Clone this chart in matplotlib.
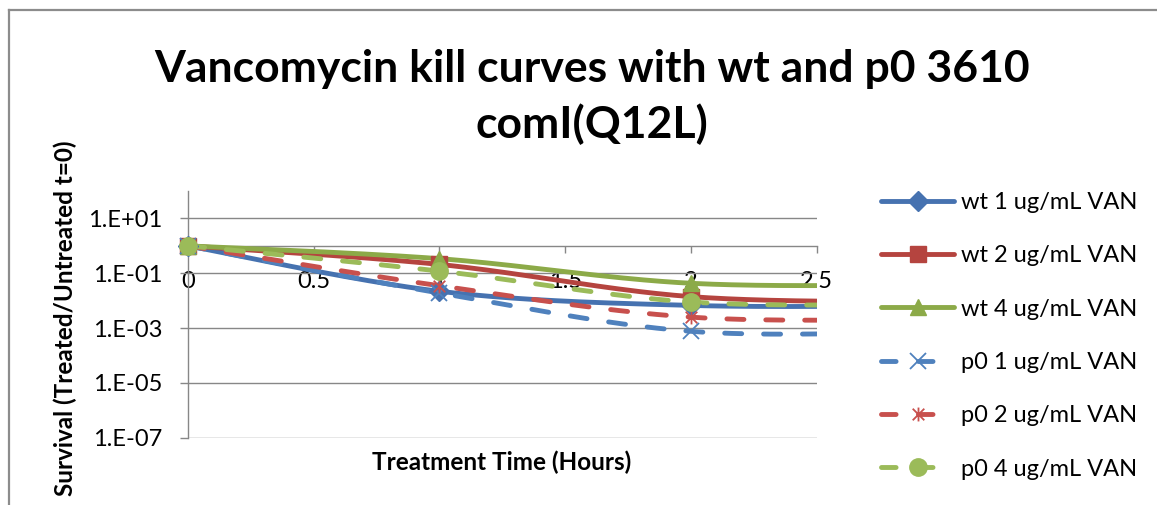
import numpy as np
import matplotlib
matplotlib.use("Agg")
import matplotlib.pyplot as plt
from matplotlib.lines import Line2D
from matplotlib.path import Path

plt.rcParams['font.family'] = ['Lato', 'DejaVu Sans']

# Sampling times (hours) and survival fractions (treated / untreated t=0)
hours = [0, 1, 2, 3]
series_names = ["wt 1 ug/mL VAN", "wt 2 ug/mL VAN", "wt 4 ug/mL VAN",
                "p0 1 ug/mL VAN", "p0 2 ug/mL VAN", "p0 4 ug/mL VAN"]
wt_1 = [1.0, 0.022, 0.0067, 0.0066]
wt_2 = [1.0, 0.21, 0.014, 0.009]
wt_4 = [1.0, 0.34, 0.043, 0.038]
p0_1 = [1.0, 0.019, 0.00076, 0.00076]
p0_2 = [1.0, 0.035, 0.0025, 0.0021]
p0_4 = [1.0, 0.12, 0.0089, 0.0075]
x_ticks = [0, 0.5, 1, 1.5, 2, 2.5]
x_tick_labels = ["0", "0.5", "1", "1.5", "2", "2.5"]
y_ticks = [1e1, 1e-1, 1e-3, 1e-5, 1e-7]
y_tick_labels = ["1.E+01", "1.E-01", "1.E-03", "1.E-05", "1.E-07"]

# Excel-like asterisk: an X with a vertical stroke
star = Path([(-1, -1), (1, 1), (-1, 1), (1, -1), (0, -1.2), (0, 1.2)],
            [Path.MOVETO, Path.LINETO, Path.MOVETO, Path.LINETO, Path.MOVETO, Path.LINETO])

styles = [
    dict(color="#4672B0", ls="-", marker="D", ms=10, mfc="#4672B0", mec="#4672B0", mew=1),
    dict(color="#B5443F", ls="-", marker="s", ms=11, mfc="#B5443F", mec="#B5443F", mew=1),
    dict(color="#8CAA48", ls="-", marker="^", ms=12, mfc="#8CAA48", mec="#8CAA48", mew=1),
    dict(color="#4F81BD", ls="--", marker="x", ms=12, mfc="none", mec="#4F81BD", mew=1.3),
    dict(color="#C8504D", ls="--", marker=star, ms=10, mfc="none", mec="#C8504D", mew=1.3),
    dict(color="#9BBB59", ls="--", marker="o", ms=12.5, mfc="#9BBB59", mec="#9BBB59", mew=1),
]
LW = 3.5
DASHES = (3.5, 4.5)
FS = 17


def smooth(xs, ys, n=60):
    """Cubic Bezier smoothing through every point (Excel 'smoothed line')."""
    pts = np.column_stack([xs, ys]).astype(float)
    out = []
    for i in range(len(pts) - 1):
        p0 = pts[i - 1] if i > 0 else pts[i]
        p1, p2 = pts[i], pts[i + 1]
        p3 = pts[i + 2] if i + 2 < len(pts) else pts[i + 1]
        c1 = p1 + (p2 - p0) / 6.0
        c2 = p2 - (p3 - p1) / 6.0
        t = np.linspace(0, 1, n)[:, None]
        seg = ((1 - t) ** 3) * p1 + 3 * ((1 - t) ** 2) * t * c1 + 3 * (1 - t) * t ** 2 * c2 + t ** 3 * p2
        out.append(seg if i == 0 else seg[1:])
    return np.vstack(out)


W, H = 1157, 505
fig = plt.figure(figsize=(W / 100, H / 100), dpi=100)
ax = fig.add_axes([187.7 / W, 1 - 437.7 / H, (816.7 - 187.7) / W, (437.7 - 191) / H])

ax.set_yscale("log")
ax.set_xlim(0, 2.5)
ax.set_ylim(1e-7, 1e2)
xmax = ax.get_xlim()[1]

grid_c = "#878787"
ax.set_yticks(y_ticks)
ax.set_yticklabels(y_tick_labels)
ax.yaxis.set_minor_locator(matplotlib.ticker.NullLocator())
ax.set_xticks(x_ticks)
ax.set_xticklabels(x_tick_labels)
ax.grid(axis="y", color=grid_c, lw=1.0)
ax.set_axisbelow(True)
for s in ("top", "right"):
    ax.spines[s].set_visible(False)
ax.spines["bottom"].set_position(("data", 1))
for s in ("bottom", "left"):
    ax.spines[s].set_color(grid_c)
    ax.spines[s].set_linewidth(1.0)
ax.tick_params(axis="y", length=6, width=1.0, color=grid_c, pad=12, labelsize=FS)
ax.tick_params(axis="x", length=5, width=1.0, color=grid_c, pad=13, labelsize=FS, direction="out")

all_series = [wt_1, wt_2, wt_4, p0_1, p0_2, p0_4]
handles = []
for name, vals, st in zip(series_names, all_series, styles):
    curve = smooth(hours, np.log10(vals))
    ln, = ax.plot(curve[:, 0], 10 ** curve[:, 1], color=st["color"], lw=LW,
                  solid_capstyle="round", dash_capstyle="round", zorder=3)
    if st["ls"] == "--":
        ln.set_dashes(DASHES)
    hx = np.array(hours, dtype=float)
    hv = np.array(vals, dtype=float)
    keep = hx <= xmax
    ax.plot(hx[keep], hv[keep], ls="none", marker=st["marker"], ms=st["ms"],
            mfc=st["mfc"], mec=st["mec"], mew=st["mew"], clip_on=False, zorder=4)
    h = Line2D([], [], color=st["color"], lw=LW, marker=st["marker"], ms=st["ms"],
               mfc=st["mfc"], mec=st["mec"], mew=st["mew"],
               solid_capstyle="round", dash_capstyle="round")
    if st["ls"] == "--":
        h.set_dashes((3.0, 4.6))
    handles.append(h)

fig.legend(handles, series_names, loc="upper left",
           bbox_to_anchor=(881 / W, 1 - 192 / H), frameon=False, fontsize=FS,
           handlelength=3.1, handletextpad=0.3, labelspacing=1.37, borderpad=0,
           borderaxespad=0)

fig.text(592 / W, 1 - 97 / H, "Vancomycin kill curves with wt and p0 3610\ncomI(Q12L)",
         ha="center", va="center", fontsize=32, fontweight="bold", linespacing=1.42)
fig.text(502 / W, 1 - 462 / H, "Treatment Time (Hours)", ha="center", va="center",
         fontsize=FS + 0.5, fontweight="bold")
fig.text(65 / W, 1 - 318 / H, "Survival (Treated/Untreated t=0)", ha="center", va="center",
         rotation=90, fontsize=FS + 0.5, fontweight="bold")

# chart area border (top and left edges)
fig.add_artist(Line2D([8.5 / W, 1.0], [1 - 9.5 / H, 1 - 9.5 / H], color="#8c8c8c", lw=1.6,
                      transform=fig.transFigure))
fig.add_artist(Line2D([8.5 / W, 8.5 / W], [0, 1 - 9.5 / H], color="#8c8c8c", lw=1.6,
                      transform=fig.transFigure))

fig.savefig("out.png", dpi=100)
